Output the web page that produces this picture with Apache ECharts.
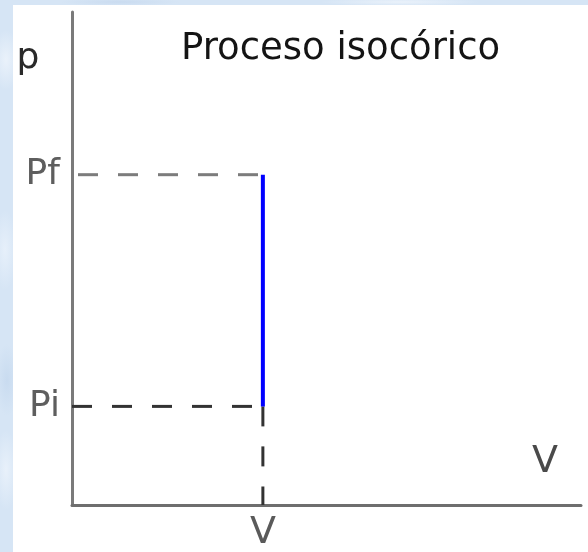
<!DOCTYPE html>
<html>
<head>
<meta charset="utf-8">
<script src="https://cdn.jsdelivr.net/npm/echarts@6/dist/echarts.min.js"></script>
<style>
  html, body { margin: 0; padding: 0; }
  body {
    width: 588px; height: 552px; overflow: hidden; position: relative;
    background-color: #d6e5f5;
    background-image:
      radial-gradient(ellipse 14px 30px at 6px 60px, rgba(236,243,251,0.9), rgba(236,243,251,0) 100%),
      radial-gradient(ellipse 12px 40px at 5px 250px, rgba(232,241,251,0.9), rgba(232,241,251,0) 100%),
      radial-gradient(ellipse 12px 36px at 7px 380px, rgba(199,218,239,0.9), rgba(199,218,239,0) 100%),
      radial-gradient(ellipse 12px 40px at 6px 470px, rgba(234,242,251,0.9), rgba(234,242,251,0) 100%),
      radial-gradient(ellipse 60px 4px at 120px 2px, rgba(200,218,239,0.9), rgba(200,218,239,0) 100%),
      radial-gradient(ellipse 80px 4px at 400px 2px, rgba(236,243,251,0.9), rgba(236,243,251,0) 100%);
  }
  #paper { position: absolute; left: 13px; top: 5px; right: 0; bottom: 0; background: #ffffff; }
  #chart { position: absolute; left: 0; top: 0; width: 588px; height: 552px; }
</style>
</head>
<body>
<div id="paper"></div>
<div id="chart"></div>
<script>
// Isochoric process: volume stays fixed while pressure rises from Pi to Pf.
const titleText = 'Proceso isocórico';
const volumeAxisName = 'V';
const pressureAxisName = 'p';

// constant volume of the process
const volumeValues = [3];
const volumeTickLabels = ['V'];

// initial and final pressure
const pressureValues = [4, 13.4];
const pressureTickLabels = ['Pi', 'Pf'];

// axis extents
const volumeRange = [0, 8];
const pressureRange = [0, 20];

const V = volumeValues[0];
const Pi = pressureValues[0];
const Pf = pressureValues[1];

const font = 'DejaVu Sans';

function labelFor(values, labels) {
  return function (val) {
    for (let i = 0; i < values.length; i++) {
      if (Math.abs(values[i] - val) < 1e-9) return labels[i];
    }
    return '';
  };
}

const chart = echarts.init(document.getElementById('chart'), null, { renderer: 'canvas' });

chart.setOption({
  backgroundColor: 'transparent',
  animation: false,
  title: {
    text: titleText,
    left: 176,
    top: 26,
    textStyle: { fontFamily: font, fontSize: 37, fontWeight: 'normal', color: '#141414' }
  },
  grid: { left: 72, right: 7, top: 12, bottom: 46, containLabel: false },
  xAxis: {
    type: 'value',
    min: volumeRange[0],
    max: volumeRange[1],
    name: volumeAxisName,
    nameLocation: 'end',
    nameGap: -36,
    nameTextStyle: {
      fontFamily: font, fontSize: 38, color: '#4a4a4a',
      align: 'center', verticalAlign: 'bottom', padding: [0, 0, 24, 0]
    },
    axisLine: { show: true, onZero: false, lineStyle: { color: '#6e6e6e', width: 3 } },
    axisTick: { show: false },
    splitLine: { show: false },
    axisLabel: {
      customValues: volumeValues,
      formatter: labelFor(volumeValues, volumeTickLabels),
      margin: 9,
      fontFamily: font, fontSize: 38, color: '#5a5a5a'
    }
  },
  yAxis: {
    type: 'value',
    min: pressureRange[0],
    max: pressureRange[1],
    name: pressureAxisName,
    nameLocation: 'end',
    nameGap: -47,
    nameTextStyle: {
      fontFamily: font, fontSize: 36, color: '#2a2a2a',
      align: 'center', verticalAlign: 'middle', padding: [0, 88, 0, 0]
    },
    axisLine: { show: true, onZero: false, lineStyle: { color: '#7a7a7a', width: 3 } },
    axisTick: { show: false },
    splitLine: { show: false },
    axisLabel: {
      customValues: pressureValues,
      formatter: labelFor(pressureValues, pressureTickLabels),
      margin: 12,
      fontFamily: font, fontSize: 36, color: '#5e5e5e'
    }
  },
  series: [
    {
      name: 'Pf guide',
      type: 'line',
      data: [[volumeRange[0], Pf], [V, Pf]],
      symbol: 'none',
      silent: true,
      z: 2,
      lineStyle: { color: '#7c7c7c', width: 3, type: [20, 20], dashOffset: 34 }
    },
    {
      name: 'Pi guide',
      type: 'line',
      data: [[volumeRange[0], Pi], [V, Pi]],
      symbol: 'none',
      silent: true,
      z: 2,
      lineStyle: { color: '#333333', width: 3, type: [20, 20] }
    },
    {
      name: 'V guide',
      type: 'line',
      data: [[V, Pi], [V, pressureRange[0]]],
      symbol: 'none',
      silent: true,
      z: 2,
      lineStyle: { color: '#333333', width: 3, type: [20, 20] }
    },
    {
      name: 'isocoric',
      type: 'line',
      data: [[V, Pi], [V, Pf]],
      symbol: 'none',
      silent: true,
      z: 3,
      lineStyle: { color: '#0000ff', width: 4, cap: 'butt' }
    }
  ]
});
</script>
</body>
</html>
